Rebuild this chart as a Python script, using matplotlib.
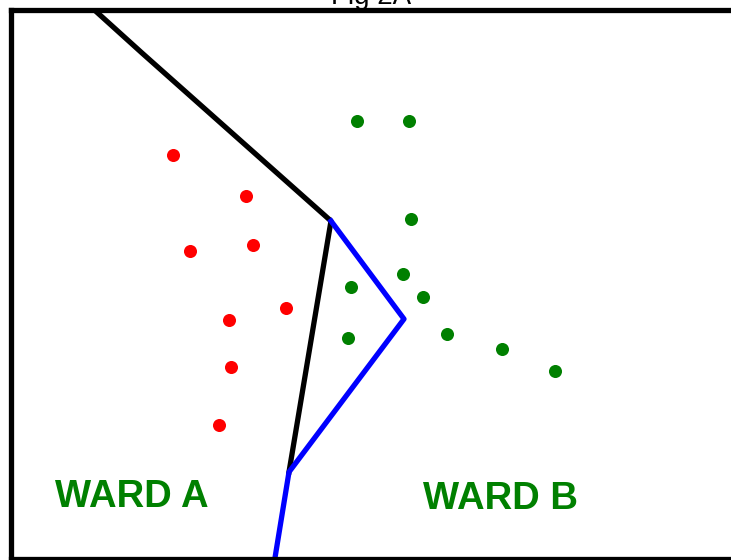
import matplotlib
matplotlib.use('Agg')
import matplotlib.pyplot as plt

# positions measured on the drawing (x right, y down)
ward_a_x = [173, 246, 190, 253, 286, 229, 231, 219]
ward_a_y = [155, 196, 251, 245, 308, 320, 367, 425]
ward_b_x = [357, 409, 411, 403, 351, 423, 348, 447, 502, 555]
ward_b_y = [121, 121, 219, 274, 287, 297, 338, 334, 349, 371]

black_x = [90, 142, 331, 289]
black_y = [6, 53, 221, 472]
blue_x = [331, 404, 289, 273]
blue_y = [221, 319, 472, 570]

labels = ['WARD A', 'WARD B']
label_x = [132, 500]
label_y = [507, 509]

fig = plt.figure(figsize=(7.31, 5.60), dpi=100)
ax = fig.add_axes([11 / 731, 1.5 / 560, 760 / 731, 549 / 560])
ax.set_xlim(11, 771)
ax.set_ylim(558.5, 9.5)
ax.set_xticks([])
ax.set_yticks([])
for side in ['left', 'top', 'bottom', 'right']:
    ax.spines[side].set_linewidth(3.8)
    ax.spines[side].set_color('black')

ax.plot(black_x, black_y, color='black', lw=3.8, solid_joinstyle='round')
ax.plot(blue_x, blue_y, color='#0000ff', lw=3.8, solid_joinstyle='round')
ax.plot(ward_a_x, ward_a_y, 'o', color='#ff0000', ms=9.4, mec='none')
ax.plot(ward_b_x, ward_b_y, 'o', color='#008000', ms=9.4, mec='none')

for t, x, y in zip(labels, label_x, label_y):
    ax.text(x, y, t, color='#008000', fontsize=27.5, fontweight='bold',
            family='Liberation Sans', ha='center', va='baseline')

fig.text(371 / 731, 1 - 4 / 560, 'Fig 2A', fontsize=20, family='Liberation Sans',
         ha='center', va='baseline')

fig.savefig('out.png', dpi=100)
